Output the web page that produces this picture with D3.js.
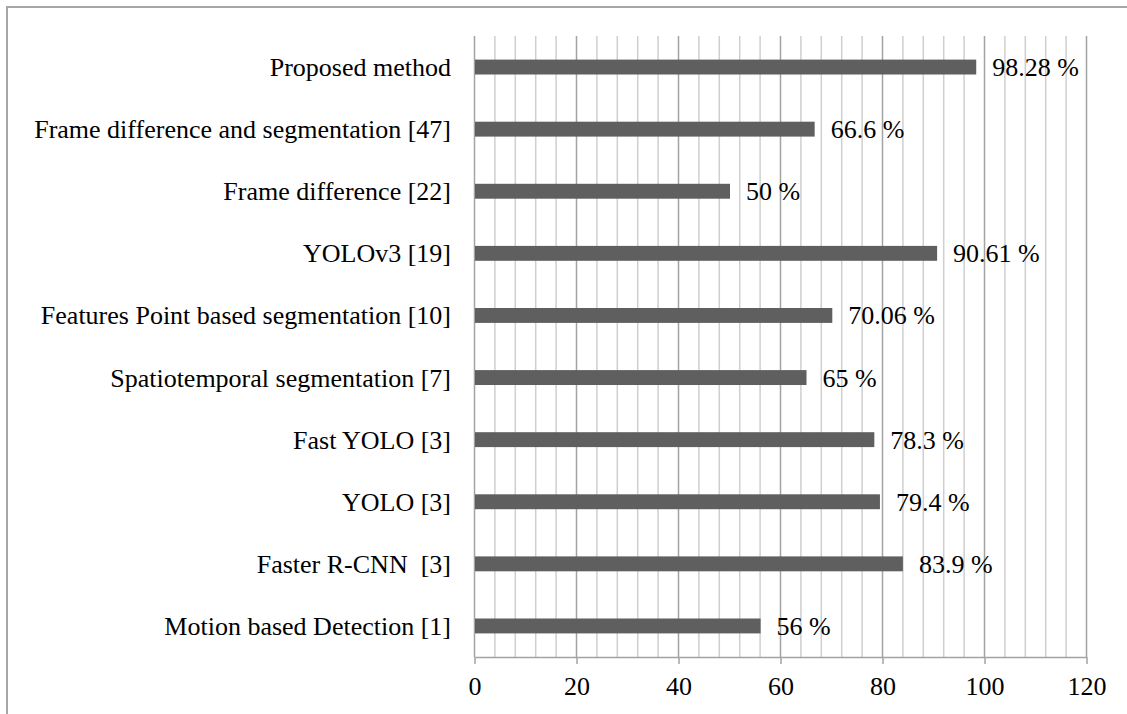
<!DOCTYPE html>
<html>
<head>
<meta charset="utf-8">
<script src="https://cdn.jsdelivr.net/npm/d3@7"></script>
<style>
  html, body { margin: 0; padding: 0; background: #fff; }
  svg { display: block; }
  text { font-family: "Liberation Serif", "Times New Roman", serif; fill: #000; white-space: pre; }
</style>
</head>
<body>
<svg id="chart" width="1127" height="714"></svg>
<script>
// Detection accuracy (%) per method, listed top to bottom
const methods = [
  "Proposed method",
  "Frame difference and segmentation [47]",
  "Frame difference [22]",
  "YOLOv3 [19]",
  "Features Point based segmentation [10]",
  "Spatiotemporal segmentation [7]",
  "Fast YOLO [3]",
  "YOLO [3]",
  "Faster R-CNN  [3]",
  "Motion based Detection [1]"
];
const accuracy = [98.28, 66.6, 50, 90.61, 70.06, 65, 78.3, 79.4, 83.9, 56];
const valueLabels = ["98.28 %", "66.6 %", "50 %", "90.61 %", "70.06 %", "65 %", "78.3 %", "79.4 %", "83.9 %", "56 %"];
const majorTicks = [0, 20, 40, 60, 80, 100, 120];
const minorStep = 4;

const svg = d3.select("#chart");
const W = 1127, H = 714;
const plotLeft = 474, plotRight = 1086, plotTop = 36, plotBottom = 657;
const serif = "'Liberation Serif', 'Times New Roman', serif";

// outer frame (top and left edges visible)
svg.append("path")
  .attr("d", `M7,${H} L7,7 L${W},7`)
  .attr("fill", "none")
  .attr("stroke", "#a6a6a6")
  .attr("stroke-width", 2);

const x = d3.scaleLinear().domain([0, 120]).range([plotLeft, plotRight]);
const y = d3.scaleBand().domain(methods).range([plotTop, plotBottom]).paddingInner(0.76).paddingOuter(0.38);

// minor gridlines
const minor = d3.range(0, 120 + minorStep, minorStep).filter(v => v % 20 !== 0);
svg.append("g").selectAll("line").data(minor).join("line")
  .attr("x1", d => x(d) + 0.5).attr("x2", d => x(d) + 0.5)
  .attr("y1", plotTop).attr("y2", plotBottom)
  .attr("stroke", "#cfcfcf").attr("stroke-width", 1.5);

// major gridlines
svg.append("g").selectAll("line").data(majorTicks).join("line")
  .attr("x1", d => x(d) + 0.5).attr("x2", d => x(d) + 0.5)
  .attr("y1", plotTop).attr("y2", plotBottom)
  .attr("stroke", "#a3a3a3").attr("stroke-width", 1.5);

// x axis
const xAxis = d3.axisBottom(x).tickValues(majorTicks).tickSize(7).tickPadding(13).tickSizeOuter(0);
const gx = svg.append("g").attr("transform", `translate(0.5,${plotBottom})`).call(xAxis)
  .attr("font-family", null).attr("font-size", null);
gx.select(".domain").attr("stroke", "#a3a3a3").attr("stroke-width", 1.5);
gx.selectAll(".tick line").attr("stroke", "#a3a3a3").attr("stroke-width", 1.5);
gx.selectAll(".tick text")
  .style("font-family", serif)
  .style("font-size", "26px").attr("fill", "#000");

// bars
const data = methods.map((m, i) => ({ m, v: accuracy[i], label: valueLabels[i] }));
svg.append("g").selectAll("rect").data(data).join("rect")
  .attr("x", x(0) + 1)
  .attr("y", d => y(d.m))
  .attr("width", d => x(d.v) - x(0))
  .attr("height", y.bandwidth())
  .attr("fill", "#5f5f5f");

// category labels
svg.append("g").selectAll("text").data(data).join("text")
  .attr("x", plotLeft - 23)
  .attr("y", d => y(d.m) + y.bandwidth() / 2 + 9)
  .attr("text-anchor", "end")
  .style("font-family", serif)
  .style("font-size", "26px")
  .text(d => d.m);

// value labels
svg.append("g").selectAll("text").data(data).join("text")
  .attr("x", d => x(d.v) + 17)
  .attr("y", d => y(d.m) + y.bandwidth() / 2 + 9)
  .style("font-family", serif)
  .style("font-size", "26px")
  .text(d => d.label);
</script>
</body>
</html>
